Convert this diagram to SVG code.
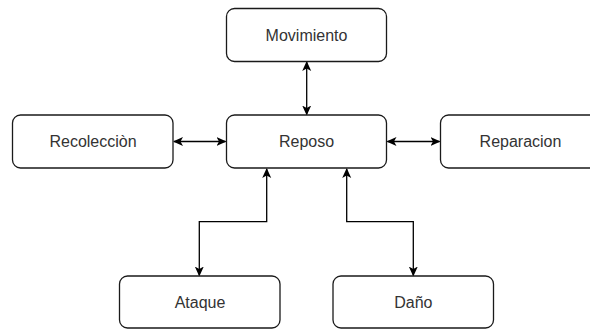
<svg xmlns="http://www.w3.org/2000/svg" width="590" height="329" viewBox="0 0 590 329">
  <defs>
    <style>
      .box { fill: #ffffff; stroke: #1a1a1a; stroke-width: 1.3; }
      .lbl { font-family: "Liberation Sans", Arial, sans-serif; font-size: 16px; fill: #333333; text-anchor: middle; dominant-baseline: central; }
      .edge { fill: none; stroke: #000000; stroke-width: 1.3; marker-start: url(#arrow); marker-end: url(#arrow); }
    </style>
    <marker id="arrow" viewBox="0 0 10 10" refX="9" refY="5" markerWidth="10" markerHeight="10" markerUnits="userSpaceOnUse" orient="auto-start-reverse">
      <path d="M0,0.5 L10,5 L0,9.5 L2.5,5 Z" fill="#000000"/>
    </marker>
  </defs>
  <rect width="590" height="329" fill="#ffffff"/>

  <g id="connectors">
    <path class="edge" d="M306.7,62 L306.7,114.5"/>
    <path class="edge" d="M174,141.5 L225.5,141.5"/>
    <path class="edge" d="M387.5,141.5 L439.5,141.5"/>
    <path class="edge" d="M266.7,169 L266.7,221.7 L199.3,221.7 L199.3,275.5"/>
    <path class="edge" d="M346.7,169 L346.7,221.7 L413.3,221.7 L413.3,275.5"/>
  </g>

  <g id="movimiento">
    <rect class="box" x="226.5" y="8.5" width="160" height="53" rx="8"/>
    <text class="lbl" x="306.5" y="35">Movimiento</text>
  </g>
  <g id="reposo">
    <rect class="box" x="226.5" y="115" width="160" height="53" rx="8"/>
    <text class="lbl" x="306.5" y="141.5">Reposo</text>
  </g>
  <g id="recoleccion">
    <rect class="box" x="12.5" y="115" width="160.5" height="53" rx="8"/>
    <text class="lbl" x="93" y="141.5">Recolecciòn</text>
  </g>
  <g id="reparacion">
    <rect class="box" x="440.5" y="115" width="160" height="53" rx="8"/>
    <text class="lbl" x="520.5" y="141.5">Reparacion</text>
  </g>
  <g id="ataque">
    <rect class="box" x="119.5" y="276" width="160.5" height="52" rx="8"/>
    <text class="lbl" x="200" y="302">Ataque</text>
  </g>
  <g id="dano">
    <rect class="box" x="333" y="276" width="160.5" height="52" rx="8"/>
    <text class="lbl" x="413.3" y="302">Daño</text>
  </g>
</svg>
